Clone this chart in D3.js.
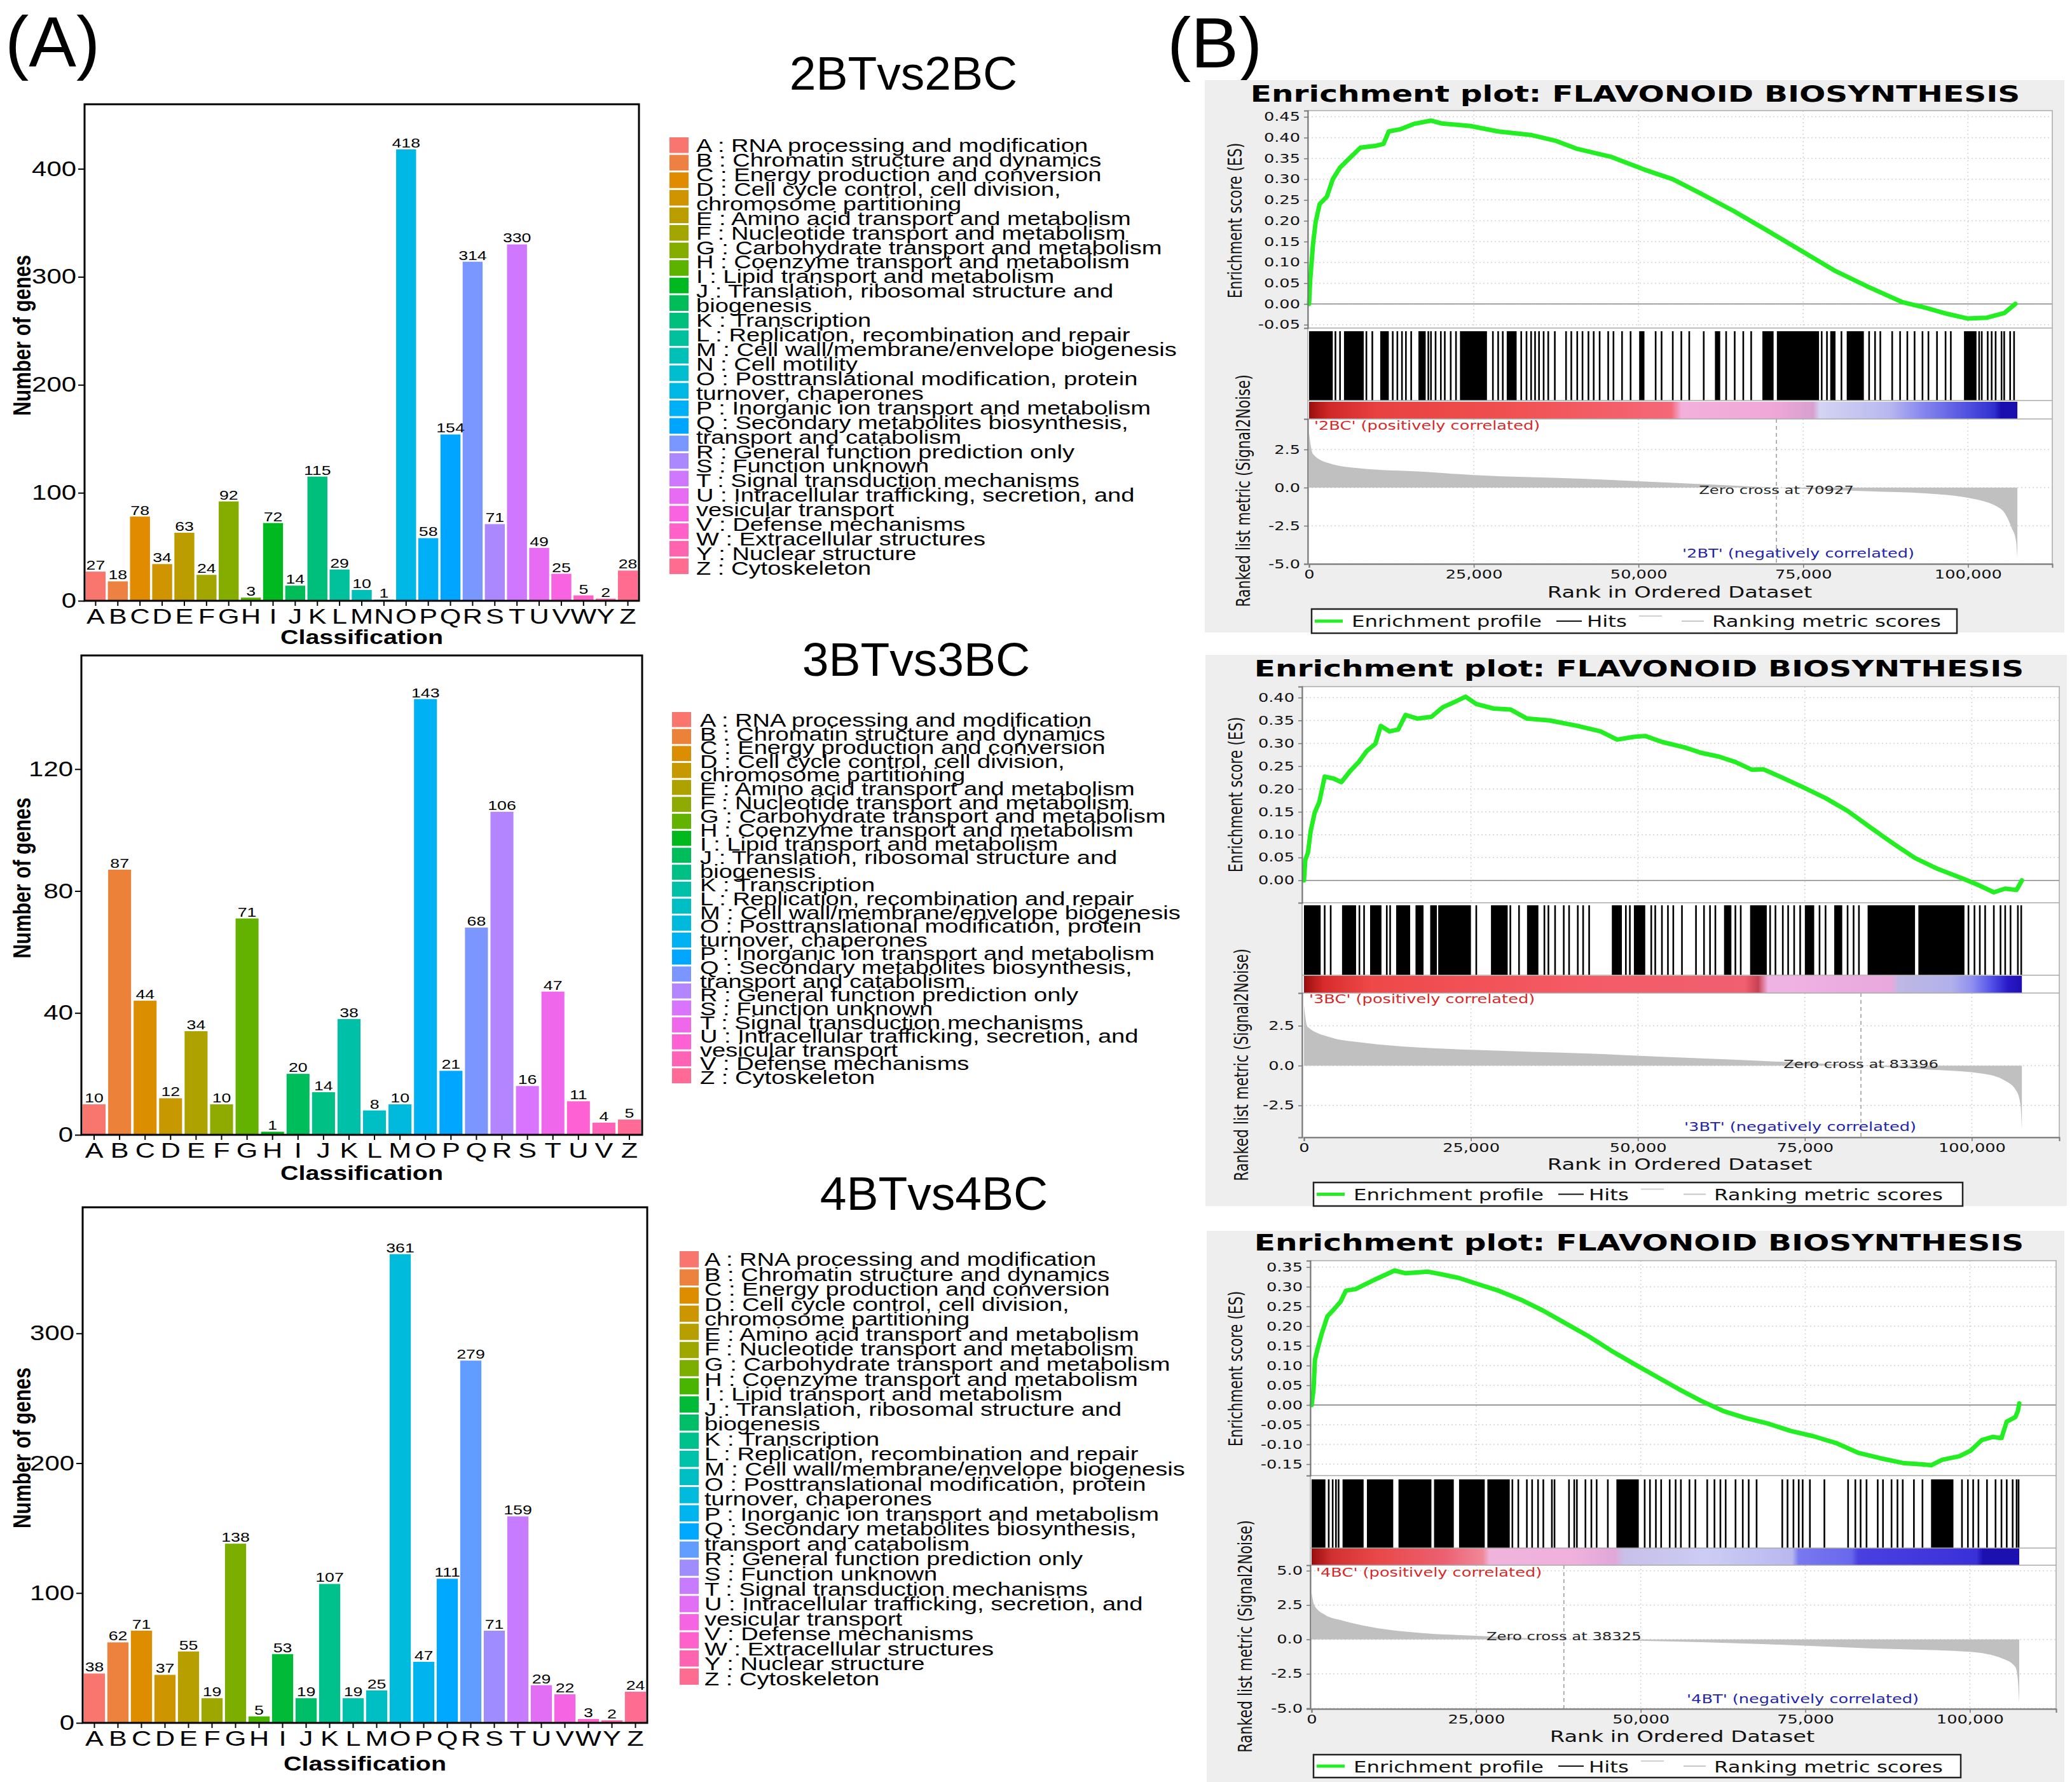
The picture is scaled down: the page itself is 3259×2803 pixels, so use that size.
<!DOCTYPE html>
<html>
<head>
<meta charset="utf-8">
<script src="https://cdn.jsdelivr.net/npm/d3@7"></script>
<style>body{margin:0;background:#fff}</style>
</head>
<body>
<div id="chart"></div>
<script>
// ---------- data: COG classification (panel A) ----------
var cogDesc = {
  A: "RNA processing and modification", B: "Chromatin structure and dynamics",
  C: "Energy production and conversion", D: "Cell cycle control, cell division,\nchromosome partitioning",
  E: "Amino acid transport and metabolism", F: "Nucleotide transport and metabolism",
  G: "Carbohydrate transport and metabolism", H: "Coenzyme transport and metabolism",
  I: "Lipid transport and metabolism", J: "Translation, ribosomal structure and\nbiogenesis",
  K: "Transcription", L: "Replication, recombination and repair",
  M: "Cell wall/membrane/envelope biogenesis", N: "Cell motility",
  O: "Posttranslational modification, protein\nturnover, chaperones", P: "Inorganic ion transport and metabolism",
  Q: "Secondary metabolites biosynthesis,\ntransport and catabolism", R: "General function prediction only",
  S: "Function unknown", T: "Signal transduction mechanisms",
  U: "Intracellular trafficking, secretion, and\nvesicular transport", V: "Defense mechanisms",
  W: "Extracellular structures", Y: "Nuclear structure", Z: "Cytoskeleton"
};

var cats2B = ["A","B","C","D","E","F","G","H","I","J","K","L","M","N","O","P","Q","R","S","T","U","V","W","Y","Z"];
var vals2B = [27,18,78,34,63,24,92,3,72,14,115,29,10,1,418,58,154,314,71,330,49,25,5,2,28];
var ticks2B = [0,100,200,300,400];

var cats3B = ["A","B","C","D","E","F","G","H","I","J","K","L","M","O","P","Q","R","S","T","U","V","Z"];
var vals3B = [10,87,44,12,34,10,71,1,20,14,38,8,10,143,21,68,106,16,47,11,4,5];
var ticks3B = [0,40,80,120];

var cats4B = ["A","B","C","D","E","F","G","H","I","J","K","L","M","O","P","Q","R","S","T","U","V","W","Y","Z"];
var vals4B = [38,62,71,37,55,19,138,5,53,19,107,19,25,361,47,111,279,71,159,29,22,3,2,24];
var ticks4B = [0,100,200,300];

// ---------- data: GSEA enrichment plots (panel B), ranks in thousands ----------
var rankTicks = [0,25000,50000,75000,100000];
var rankEnd = 107.5;

var es2B = [[0,0],[0.17,0.057],[0.6,0.144],[1.0,0.197],[1.6,0.24],[2.7,0.258],[3.6,0.30],[4.7,0.328],[6.1,0.35],[7.8,0.376],[10.0,0.38],[11.3,0.385],[12.1,0.415],[13.8,0.42],[15.9,0.433],[18.5,0.441],[20.2,0.434],[24.5,0.428],[28.7,0.415],[33.8,0.406],[37.3,0.393],[40.7,0.373],[45.8,0.354],[50.9,0.323],[55.2,0.30],[59.4,0.266],[64.5,0.223],[69.7,0.175],[74.8,0.127],[79.9,0.079],[85.0,0.04],[90.1,0.004],[93.5,-0.009],[96.9,-0.024],[99.9,-0.035],[102.9,-0.033],[105.5,-0.022],[107.2,0.0]];
var hitBlocks2B = [[0,3.6],[5.3,8.3],[10.8,12.1],[16.6,17.7],[22.9,27.0],[30.0,31.5],[50.1,50.9],[61.6,62.4],[68.8,70.5],[71.0,77.4],[79.1,79.9],[81.6,84.2],[99.4,101.3]];
var hitLines2B = [4.0,4.7,8.7,9.6,12.7,13.4,14.1,14.7,15.5,18.1,18.5,19.2,20.0,20.6,21.5,22.3,27.9,28.7,29.4,32.2,33.0,33.7,34.3,34.9,35.6,36.3,37.3,39.0,39.8,40.7,41.5,42.4,43.2,44.1,45.4,46.2,47.5,48.8,52.6,53.5,55.2,56.5,57.7,59.9,63.3,64.6,65.9,67.1,77.8,78.6,80.8,85.0,85.9,86.7,88.5,89.7,90.8,91.9,93.1,94.0,95.3,96.6,97.4,101.7,102.1,103.0,103.6,104.2,105.1,105.5,106.4,107.0];
var metric2B = [[0,3.6],[0.2,2.9],[0.6,2.2],[3,1.6],[8,1.25],[17,1.05],[25,0.82],[42,0.57],[59,0.24],[70.9,0],[76.5,-0.1],[85,-0.24],[93.5,-0.38],[100,-0.67],[105,-1.4],[106.6,-2.6],[107.3,-3.5],[107.5,-4.6]];
var bar2B = [[0,"#9a0d0d"],[3,"#d02828"],[10,"#e84040"],[30,"#f05050"],[55,"#f56878"],[56.5,"#f3b0dc"],[70,"#f0a8d8"],[76.5,"#d8a0d0"],[77.5,"#d4d4f4"],[88,"#b8b8f0"],[93,"#8888f0"],[100,"#5050e0"],[104,"#3030d0"],[105,"#1a10b0"],[107.5,"#1a10b0"]];
var esTicks2B = [-0.05,0,0.05,0.10,0.15,0.20,0.25,0.30,0.35,0.40,0.45];
var mTicks2B = [-5,-2.5,0,2.5];

var es3B = [[0,0],[0.2,0.045],[0.6,0.061],[1.0,0.108],[1.6,0.148],[2.3,0.172],[3.1,0.227],[4.4,0.223],[5.6,0.215],[6.9,0.239],[8.2,0.259],[9.4,0.283],[10.7,0.299],[11.5,0.338],[12.8,0.326],[14.1,0.330],[15.2,0.362],[17.0,0.354],[19.1,0.358],[20.8,0.379],[22.5,0.390],[24.2,0.402],[25.8,0.386],[28.4,0.376],[30.9,0.374],[33.4,0.354],[36.8,0.350],[41.0,0.338],[44.4,0.326],[46.9,0.308],[49.4,0.314],[51.1,0.316],[53.6,0.303],[57.0,0.291],[59.5,0.279],[62.1,0.271],[64.6,0.259],[67.1,0.242],[68.8,0.243],[71.3,0.227],[74.7,0.204],[78.1,0.180],[81.4,0.152],[84.8,0.116],[88.2,0.081],[91.5,0.049],[94.9,0.025],[98.3,0.006],[100.8,-0.009],[103.3,-0.026],[105.0,-0.018],[106.7,-0.021],[107.5,0]];
var hitBlocks3B = [[0,2.5],[5.7,7.8],[9.9,11.6],[13.8,15.9],[16.7,17.9],[18.9,19.9],[20.1,25.0],[28.0,30.5],[33.4,35.1],[46.1,47.6],[49.4,51.1],[62.9,64.0],[66.8,69.3],[75.0,76.4],[79.4,80.6],[84.4,91.5],[92.0,98.9]];
var hitLines3B = [3.1,4.0,8.3,9.0,12.4,12.9,17.6,25.8,30.9,32.2,36.0,36.6,37.6,38.9,39.7,41.0,41.8,42.7,48.2,48.8,52.0,52.6,53.6,54.5,55.3,56.6,58.7,59.9,60.8,61.6,64.6,65.4,69.8,70.6,71.7,72.5,73.4,74.3,77.2,78.1,81.4,82.3,83.1,99.5,100.4,101.2,102.0,103.3,104.3,105.0,105.8,106.9,107.4];
var metric3B = [[0,3.8],[0.5,2.45],[4,1.77],[9,1.43],[17,1.14],[25.8,0.98],[42.7,0.75],[59.5,0.45],[68,0.3],[83.4,0],[93,-0.23],[101.6,-0.5],[105,-0.95],[106.7,-1.6],[107.3,-2.5],[107.5,-4.0]];
var bar3B = [[0,"#9a0d0d"],[3,"#d82c2c"],[10,"#ee4848"],[40,"#f45a64"],[66,"#f06070"],[68,"#c84050"],[69.5,"#f0b4e4"],[88,"#e8a8dc"],[89,"#c0b8e4"],[97,"#b0b0ec"],[100,"#9090f0"],[103,"#5050e8"],[105.5,"#2818c8"],[107.5,"#2010b0"]];
var esTicks3B = [0,0.05,0.10,0.15,0.20,0.25,0.30,0.35,0.40];
var mTicks3B = [-2.5,0,2.5];

var es4B = [[0,0],[0.3,0.041],[0.5,0.114],[0.9,0.142],[1.5,0.179],[2.4,0.225],[3.2,0.239],[4.4,0.262],[5.2,0.290],[6.7,0.294],[7.9,0.304],[9.6,0.318],[11.3,0.331],[12.6,0.341],[14.3,0.334],[16.0,0.336],[17.7,0.338],[19.9,0.331],[22.4,0.322],[25.0,0.308],[28.4,0.290],[31.8,0.267],[35.2,0.239],[38.6,0.207],[42.1,0.174],[45.5,0.138],[48.9,0.105],[52.3,0.073],[55.7,0.041],[59.1,0.011],[62.5,-0.015],[65.9,-0.033],[69.3,-0.047],[72.8,-0.066],[76.2,-0.079],[79.6,-0.096],[83.0,-0.121],[86.4,-0.135],[89.8,-0.147],[93.2,-0.151],[94.1,-0.153],[95.8,-0.139],[98.4,-0.130],[100.1,-0.116],[101.8,-0.089],[103.5,-0.081],[104.8,-0.084],[105.6,-0.042],[106.9,-0.031],[107.3,-0.015],[107.5,0.004]];
var hitBlocks4B = [[0,2.1],[4.7,7.9],[8.4,12.4],[13.2,18.2],[18.6,21.6],[22.4,26.3],[26.7,30.1],[46.3,49.7],[94.1,97.5]];
var hitLines4B = [2.6,3.2,3.7,4.1,30.5,31.4,32.7,33.5,34.4,35.2,36.5,36.9,39.1,39.9,40.3,41.6,42.5,43.3,45.0,50.6,51.4,52.3,53.1,54.4,55.3,56.1,57.4,58.3,60.1,61.2,62.1,62.9,64.4,65.5,66.4,67.6,71.5,72.3,73.2,74.0,74.6,75.7,77.9,81.5,82.6,83.4,84.3,86.0,86.8,88.1,89.0,89.8,91.5,92.8,98.8,99.7,100.5,101.3,102.6,103.9,104.8,105.6,106.5,107.1,107.4];
var metric4B = [[0,3.4],[0.4,2.5],[2,1.8],[4.5,1.4],[8,1.0],[16.5,0.48],[25,0.27],[38.3,0],[50.6,-0.1],[67.6,-0.32],[84.7,-0.64],[100,-0.9],[105,-1.4],[106.9,-2.0],[107.3,-3.0],[107.5,-4.6]];
var bar4B = [[0,"#9a0d0d"],[3,"#d03030"],[10,"#e84848"],[20,"#ec6070"],[26,"#f08898"],[27,"#f0b4dc"],[40,"#f0b0dc"],[46,"#e0a8d8"],[47.5,"#c8c0e8"],[60,"#ccccf4"],[73,"#b8b8f0"],[74,"#7878f0"],[82,"#6868ec"],[83,"#4a40e0"],[101,"#3a30d8"],[102,"#1c10b0"],[107.5,"#1c10b0"]];
var esTicks4B = [-0.15,-0.10,-0.05,0,0.05,0.10,0.15,0.20,0.25,0.30,0.35];
var mTicks4B = [-5,-2.5,0,2.5,5];

// ---------- canvas ----------
var W = 3259, H = 2803;
var SXA = 1.27, SXB = 1.35;   // the figure is horizontally stretched
var FONT_A = "'Liberation Sans', Arial, sans-serif";
var FONT_B = "'DejaVu Sans', sans-serif";

var svg = d3.select("#chart").append("svg")
    .attr("width", W).attr("height", H)
    .style("font-family", FONT_A);
svg.append("rect").attr("width", W).attr("height", H).attr("fill", "#fff");
var defs = svg.append("defs");

function stext(g, x, y, s, o) {
  o = o || {};
  var t = g.append("text")
      .attr("transform", "translate(" + x + "," + y + ") scale(" + (o.sx || 1) + ",1)" + (o.rotate ? " rotate(" + o.rotate + ")" : ""))
      .attr("text-anchor", o.anchor || "start")
      .attr("font-size", o.size)
      .attr("font-weight", o.weight || "normal")
      .attr("fill", o.fill || "#000")
      .text(s);
  if (o.family) t.attr("font-family", o.family);
  return t;
}

// stretch the tick labels an axis made
function stretchAxisText(axisG, sx, size, family) {
  axisG.attr("font-size", size).attr("font-family", family);
  axisG.selectAll(".tick text").each(function() {
    var tx = +this.getAttribute("x") || 0;
    d3.select(this).attr("x", tx / sx).attr("transform", "scale(" + sx + ",1)");
  });
}

// ggplot2 hue palette (polar LUV -> sRGB)
function hclColor(h, c, l) {
  var Xn = 95.047, Yn = 100, Zn = 108.883;
  var hr = h * Math.PI / 180;
  var U = c * Math.cos(hr), V = c * Math.sin(hr);
  var Y = l > 8 ? Yn * Math.pow((l + 16) / 116, 3) : Yn * l / 903.3;
  var d = Xn + 15 * Yn + 3 * Zn;
  var up = U / (13 * l) + 4 * Xn / d, vp = V / (13 * l) + 9 * Yn / d;
  var X = 9 * Y * up / (4 * vp);
  var Z = -X / 3 - 5 * Y + 3 * Y / vp;
  var x = X / 100, y = Y / 100, z = Z / 100;
  var lin = [3.240479 * x - 1.537150 * y - 0.498535 * z,
             -0.969256 * x + 1.875992 * y + 0.041556 * z,
             0.055648 * x - 0.204043 * y + 1.057311 * z];
  var rgb = lin.map(function(v) {
    v = v <= 0.0031308 ? 12.92 * v : 1.055 * Math.pow(v, 1 / 2.4) - 0.055;
    return Math.round(255 * Math.max(0, Math.min(1, v)));
  });
  return d3.rgb(rgb[0], rgb[1], rgb[2]).formatHex();
}
var huePal = function(n) { return d3.range(n).map(function(i) { return hclColor(15 + 360 * i / n, 100, 65); }); };

// ---------- panel letters ----------
stext(svg, 8, 104, "(A)", {size: 112});
stext(svg, 1836, 106, "(B)", {size: 112});

// ---------- bar chart + legend ----------
function cogChart(cfg, cats, vals, ticks) {
  var g = svg.append("g");
  var colors = huePal(cats.length);
  var x = d3.scaleBand().domain(cats).range([cfg.x0, cfg.x1]).paddingInner(0.1).paddingOuter(0.05);
  var y = d3.scaleLinear().domain([0, d3.max(vals) * 1.1]).range([cfg.y1, cfg.y0]);

  g.selectAll("rect.bar")
    .data(cats)
    .join("rect")
      .attr("class", "bar")
      .attr("x", function(d) { return x(d); })
      .attr("width", x.bandwidth())
      .attr("y", function(d, i) { return y(vals[i]); })
      .attr("height", function(d, i) { return cfg.y1 - y(vals[i]); })
      .attr("fill", function(d, i) { return colors[i]; });

  cats.forEach(function(c, i) {
    stext(g, x(c) + x.bandwidth() / 2, y(vals[i]) - 3, String(vals[i]), {size: 21, sx: SXA, anchor: "middle"});
  });

  var ya = g.append("g").attr("transform", "translate(" + cfg.x0 + ",0)")
      .call(d3.axisLeft(y).tickValues(ticks).tickSize(10).tickPadding(3));
  ya.select(".domain").remove();
  ya.selectAll(".tick line").attr("stroke", "#000").attr("stroke-width", 2);
  ya.selectAll(".tick text").attr("fill", "#000");
  stretchAxisText(ya, SXA, 33, FONT_A);

  var xa = g.append("g").attr("transform", "translate(0," + cfg.y1 + ")")
      .call(d3.axisBottom(x).tickSize(8).tickPadding(4));
  xa.select(".domain").remove();
  xa.selectAll(".tick line").attr("stroke", "#000").attr("stroke-width", 2);
  xa.selectAll(".tick text").attr("fill", "#000");
  stretchAxisText(xa, SXA, 34, FONT_A);

  g.append("rect").attr("x", cfg.x0).attr("y", cfg.y0)
    .attr("width", cfg.x1 - cfg.x0).attr("height", cfg.y1 - cfg.y0)
    .attr("fill", "none").attr("stroke", "#000").attr("stroke-width", 3);

  stext(g, 48, (cfg.y0 + cfg.y1) / 2 - 27, "Number of genes", {size: 31, weight: "bold", sx: SXA, rotate: -90, anchor: "middle"});
  stext(g, (cfg.x0 + cfg.x1) / 2, cfg.clsY, "Classification", {size: 31, weight: "bold", sx: SXA, anchor: "middle"});
  stext(g, cfg.titleX, cfg.titleY, cfg.title, {size: 75, anchor: "middle"});

  // legend: evenly spread keys, text lines packed over the same height
  var lg = cfg.legend;
  var step = (lg.y1 - lg.y0) / cats.length;
  g.selectAll("rect.key")
    .data(cats)
    .join("rect")
      .attr("class", "key")
      .attr("x", lg.x)
      .attr("y", function(d, i) { return lg.y0 + i * step; })
      .attr("width", 30)
      .attr("height", step - 3)
      .attr("fill", function(d, i) { return colors[i]; });
  var lines = [];
  cats.forEach(function(c) {
    (c + " : " + cogDesc[c]).split("\n").forEach(function(s) { lines.push(s); });
  });
  var ly = d3.scaleLinear().domain([0, lines.length - 1]).range([lg.y0 + 23, lg.y1 - 2]);
  lines.forEach(function(s, i) {
    stext(g, lg.tx, ly(i), s, {size: 30, sx: SXA});
  });
}

cogChart({x0: 133, x1: 1005, y0: 164, y1: 945, clsY: 1013, title: "2BTvs2BC", titleX: 1421, titleY: 141,
          legend: {x: 1053, y0: 216, y1: 906, tx: 1095}}, cats2B, vals2B, ticks2B);
cogChart({x0: 128, x1: 1010, y0: 1031, y1: 1785, clsY: 1856, title: "3BTvs3BC", titleX: 1441, titleY: 1063,
          legend: {x: 1057, y0: 1120, y1: 1707, tx: 1101}}, cats3B, vals3B, ticks3B);
cogChart({x0: 130, x1: 1018, y0: 1899, y1: 2710, clsY: 2785, title: "4BTvs4BC", titleX: 1469, titleY: 1903,
          legend: {x: 1069, y0: 1968, y1: 2653, tx: 1108}}, cats4B, vals4B, ticks4B);

// ---------- GSEA enrichment plot ----------
function gseaPlot(cfg, esPts, blocks, singles, metric, stops, esTicks, mTicks) {
  var g = svg.append("g").attr("font-family", FONT_B);
  var b = cfg.bg;
  g.append("rect").attr("x", b[0]).attr("y", b[2]).attr("width", b[1] - b[0]).attr("height", b[3] - b[2]).attr("fill", "#eeeeee");
  g.append("rect").attr("x", cfg.x0).attr("y", cfg.esTop).attr("width", cfg.x1 - cfg.x0).attr("height", cfg.mBot - cfg.esTop).attr("fill", "#fff");

  stext(g, cfg.titleX, cfg.titleY, "Enrichment plot: FLAVONOID BIOSYNTHESIS", {size: 36, weight: "bold", sx: SXB, anchor: "middle", family: FONT_B});

  var x = d3.scaleLinear().domain([0, cfg.xMaxK * 1000]).range([cfg.xz, cfg.x1]);
  var yEs = d3.scaleLinear().domain(cfg.esDom).range([cfg.esBot, cfg.esTop]);
  var yM = d3.scaleLinear().domain(cfg.mDom).range([cfg.mBot, cfg.mTop]);

  // dotted grid
  var grid = g.append("g").attr("stroke", "#d4d4d4").attr("stroke-width", 1.5).attr("stroke-dasharray", "2,4");
  rankTicks.slice(1).forEach(function(r) {
    grid.append("line").attr("x1", x(r)).attr("x2", x(r)).attr("y1", cfg.esTop).attr("y2", cfg.esBot);
    grid.append("line").attr("x1", x(r)).attr("x2", x(r)).attr("y1", cfg.mTop).attr("y2", cfg.mBot);
  });
  esTicks.forEach(function(t) {
    grid.append("line").attr("x1", cfg.x0).attr("x2", cfg.x1).attr("y1", yEs(t)).attr("y2", yEs(t));
  });
  mTicks.forEach(function(t) {
    grid.append("line").attr("x1", cfg.x0).attr("x2", cfg.x1).attr("y1", yM(t)).attr("y2", yM(t));
  });

  // ES zero line and curve
  g.append("line").attr("x1", cfg.x0).attr("x2", cfg.x1).attr("y1", yEs(0)).attr("y2", yEs(0)).attr("stroke", "#999").attr("stroke-width", 1.8);
  g.append("path")
    .datum(esPts)
    .attr("fill", "none").attr("stroke", "#22ee22").attr("stroke-width", 7)
    .attr("stroke-linejoin", "round").attr("stroke-linecap", "round")
    .attr("d", d3.line().x(function(d) { return x(d[0] * 1000); }).y(function(d) { return yEs(d[1]); }));

  // hits
  g.selectAll("rect.hitb").data(blocks).join("rect").attr("class", "hitb")
    .attr("x", function(d) { return x(d[0] * 1000); })
    .attr("width", function(d) { return x(d[1] * 1000) - x(d[0] * 1000); })
    .attr("y", cfg.hitTop).attr("height", cfg.hitBot - cfg.hitTop).attr("fill", "#000");
  g.selectAll("line.hitl").data(singles).join("line").attr("class", "hitl")
    .attr("x1", function(d) { return x(d * 1000); }).attr("x2", function(d) { return x(d * 1000); })
    .attr("y1", cfg.hitTop).attr("y2", cfg.hitBot).attr("stroke", "#000").attr("stroke-width", 2.6);

  // ranked list colour bar
  var gid = "grad" + cfg.id;
  var grad = defs.append("linearGradient").attr("id", gid)
      .attr("gradientUnits", "userSpaceOnUse")
      .attr("x1", x(0)).attr("x2", x(rankEnd * 1000)).attr("y1", 0).attr("y2", 0);
  stops.forEach(function(s) {
    grad.append("stop").attr("offset", s[0] / rankEnd).attr("stop-color", s[1]);
  });
  g.append("rect").attr("x", x(0)).attr("y", cfg.cbTop).attr("width", x(rankEnd * 1000) - x(0))
    .attr("height", cfg.cbBot - cfg.cbTop).attr("fill", "url(#" + gid + ")");

  // ranked list metric
  g.append("path").datum(metric)
    .attr("fill", "#c0c0c0")
    .attr("d", d3.area().curve(d3.curveMonotoneX)
      .x(function(d) { return x(d[0] * 1000); }).y0(yM(0)).y1(function(d) { return yM(d[1]); }));

  g.append("line").attr("x1", x(cfg.zero)).attr("x2", x(cfg.zero)).attr("y1", cfg.cbBot).attr("y2", cfg.mBot)
    .attr("stroke", "#999").attr("stroke-width", 1.5).attr("stroke-dasharray", "6,5");

  // frame lines
  var fr = g.append("g").attr("stroke", "#aaa").attr("stroke-width", 1.5).attr("fill", "none");
  fr.append("rect").attr("x", cfg.x0).attr("y", cfg.esTop).attr("width", cfg.x1 - cfg.x0).attr("height", cfg.mBot - cfg.esTop);
  [cfg.esBot, cfg.hitBot, cfg.cbBot].forEach(function(yy) {
    fr.append("line").attr("x1", cfg.x0).attr("x2", cfg.x1).attr("y1", yy).attr("y2", yy);
  });

  // axes
  var fmt2 = function(d) { return d3.format(".2f")(d).replace("\u2212", "-"); };
  var fmt1 = function(d) { return d3.format(".1f")(d).replace("\u2212", "-"); };
  var ax1 = g.append("g").attr("transform", "translate(" + cfg.x0 + ",0)")
      .call(d3.axisLeft(yEs).tickValues(esTicks).tickFormat(fmt2).tickSize(6).tickPadding(6));
  var ax2 = g.append("g").attr("transform", "translate(" + cfg.x0 + ",0)")
      .call(d3.axisLeft(yM).tickValues(mTicks).tickFormat(fmt1).tickSize(6).tickPadding(6));
  var ax3 = g.append("g").attr("transform", "translate(0," + cfg.mBot + ")")
      .call(d3.axisBottom(x).tickValues(rankTicks).tickFormat(d3.format(",")).tickSize(6).tickPadding(4));
  [ax1, ax2, ax3].forEach(function(a) {
    a.select(".domain").attr("stroke", "#777").attr("stroke-width", 2);
    a.selectAll(".tick line").attr("stroke", "#777").attr("stroke-width", 1.5);
    a.selectAll(".tick text").attr("fill", "#111");
    stretchAxisText(a, SXB, 19, FONT_B);
  });

  // texts
  stext(g, cfg.rankX, cfg.rankY, "Rank in Ordered Dataset", {size: 25, sx: SXB, anchor: "middle", family: FONT_B, fill: "#111"});
  stext(g, cfg.esLab[0], cfg.esLab[1], "Enrichment score (ES)", {size: 22, sx: SXB, rotate: -90, anchor: "middle", family: FONT_B, fill: "#111"});
  stext(g, cfg.mLab[0], cfg.mLab[1], "Ranked list metric (Signal2Noise)", {size: 22, sx: SXB, rotate: -90, anchor: "middle", family: FONT_B, fill: "#111"});
  stext(g, cfg.pos[0], cfg.pos[1], cfg.posText, {size: 19, sx: SXB, family: FONT_B, fill: "#d42a2a"});
  stext(g, cfg.neg[0], cfg.neg[1], cfg.negText, {size: 19, sx: SXB, anchor: "end", family: FONT_B, fill: "#2424a8"});
  stext(g, x(cfg.zero), cfg.zeroY, "Zero cross at " + cfg.zero, {size: 18, sx: SXB, anchor: "middle", family: FONT_B, fill: "#222"});

  // legend
  var L = cfg.leg, ly = L[2] + 28, lm = (L[2] + L[3]) / 2;
  g.append("rect").attr("x", L[0]).attr("y", L[2]).attr("width", L[1] - L[0]).attr("height", L[3] - L[2])
    .attr("fill", "#fff").attr("stroke", "#222").attr("stroke-width", 2.5);
  g.append("line").attr("x1", L[0] + 5).attr("x2", L[0] + 49).attr("y1", lm).attr("y2", lm).attr("stroke", "#22ee22").attr("stroke-width", 5);
  stext(g, L[0] + 63, ly, "Enrichment profile", {size: 24, sx: SXB, family: FONT_B, fill: "#111"});
  g.append("line").attr("x1", L[0] + 385).attr("x2", L[0] + 425).attr("y1", lm).attr("y2", lm).attr("stroke", "#111").attr("stroke-width", 2.2);
  stext(g, L[0] + 433, ly, "Hits", {size: 24, sx: SXB, family: FONT_B, fill: "#111"});
  g.append("line").attr("x1", L[0] + 515).attr("x2", L[0] + 551).attr("y1", lm - 8).attr("y2", lm - 8).attr("stroke", "#d0d0d0").attr("stroke-width", 2);
  g.append("line").attr("x1", L[0] + 582).attr("x2", L[0] + 617).attr("y1", lm).attr("y2", lm).attr("stroke", "#c8c8c8").attr("stroke-width", 2);
  stext(g, L[0] + 630, ly, "Ranking metric scores", {size: 24, sx: SXB, family: FONT_B, fill: "#111"});
}

gseaPlot({id: 1, bg: [1895, 3247, 126, 995], titleX: 2572, titleY: 160,
          x0: 2057, xz: 2059, x1: 3228, xMaxK: 112.8,
          esTop: 174, esBot: 516, esDom: [-0.058, 0.465],
          hitTop: 521, hitBot: 630, cbTop: 632, cbBot: 659,
          mTop: 659, mBot: 887, mDom: [-5, 4.5],
          rankX: 2642, rankY: 940, leg: [2063, 3078, 958, 996],
          esLab: [1953, 347], mLab: [1966, 772],
          pos: [2067, 676], neg: [3011, 877], zeroY: 777, zero: 70927,
          posText: "'2BC' (positively correlated)", negText: "'2BT' (negatively correlated)"},
         es2B, hitBlocks2B, hitLines2B, metric2B, bar2B, esTicks2B, mTicks2B);

gseaPlot({id: 2, bg: [1896, 3251, 1030, 1897], titleX: 2578, titleY: 1064,
          x0: 2048, xz: 2051, x1: 3239, xMaxK: 113.1,
          esTop: 1080, esBot: 1420, esDom: [-0.049, 0.424],
          hitTop: 1424, hitBot: 1534, cbTop: 1535, cbBot: 1562,
          mTop: 1562, mBot: 1789, mDom: [-4.5, 4.55],
          rankX: 2642, rankY: 1840, leg: [2066, 3087, 1860, 1897],
          esLab: [1954, 1250], mLab: [1963, 1675],
          pos: [2059, 1578], neg: [3014, 1779], zeroY: 1680, zero: 83396,
          posText: "'3BC' (positively correlated)", negText: "'3BT' (negatively correlated)"},
         es3B, hitBlocks3B, hitLines3B, metric3B, bar3B, esTicks3B, mTicks3B);

gseaPlot({id: 3, bg: [1898, 3247, 1936, 2803], titleX: 2578, titleY: 1967,
          x0: 2061, xz: 2063, x1: 3234, xMaxK: 113.1,
          esTop: 1983, esBot: 2321, esDom: [-0.179, 0.366],
          hitTop: 2327, hitBot: 2435, cbTop: 2435, cbBot: 2462,
          mTop: 2462, mBot: 2688, mDom: [-5.05, 5.4],
          rankX: 2646, rankY: 2740, leg: [2066, 3084, 2760, 2796],
          esLab: [1954, 2153], mLab: [1969, 2574],
          pos: [2070, 2480], neg: [3018, 2679], zeroY: 2580, zero: 38325,
          posText: "'4BC' (positively correlated)", negText: "'4BT' (negatively correlated)"},
         es4B, hitBlocks4B, hitLines4B, metric4B, bar4B, esTicks4B, mTicks4B);
</script>
</body>
</html>
